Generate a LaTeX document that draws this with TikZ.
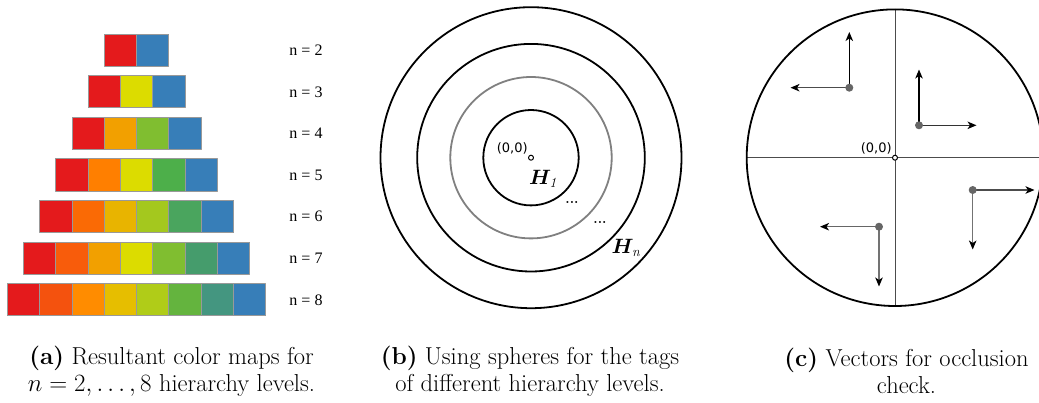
\documentclass[tikz,border=0pt]{standalone}
\usepackage{fontspec}
\usepackage{amsmath,bm}
\usetikzlibrary{arrows.meta}
\newfontfamily\labelfont{Liberation Serif}
\newfontfamily\coordfont{DejaVu Sans}

\definecolor{cRed}{RGB}{228,26,28}
\definecolor{cBlue}{RGB}{55,126,184}
\definecolor{cYel}{RGB}{220,220,0}
\definecolor{cOrA}{RGB}{242,160,0}
\definecolor{cGrA}{RGB}{128,190,48}
\definecolor{cOrB}{RGB}{255,127,0}
\definecolor{cGrB}{RGB}{77,175,74}
\definecolor{cOrC}{RGB}{250,106,5}
\definecolor{cYeC}{RGB}{232,180,0}
\definecolor{cLiC}{RGB}{164,200,30}
\definecolor{cGrC}{RGB}{74,165,94}
\definecolor{cOrD}{RGB}{248,92,11}
\definecolor{cGrD}{RGB}{69,156,108}
\definecolor{cOrE}{RGB}{244,82,14}
\definecolor{cOrF}{RGB}{255,140,0}
\definecolor{cYeE}{RGB}{230,190,0}
\definecolor{cLiE}{RGB}{176,204,24}
\definecolor{cGrE}{RGB}{100,180,62}
\definecolor{cTeE}{RGB}{68,150,128}

\begin{document}
\begin{tikzpicture}[
    x=1pt,
    y=-1pt,
    line cap=round,
    line join=round,
    cell/.style={
        draw=black!40,
        line width=1pt,
        minimum size=32.3pt,
        inner sep=0pt
    },
    nlabel/.style={font=\labelfont\fontsize{16}{18}\selectfont},
    coordlabel/.style={font=\coordfont\fontsize{13}{15}\selectfont},
    ring/.style={line width=1.8pt},
    axis/.style={line width=0.9pt, black!70},
    vec/.style={
        line width=1.2pt,
        -{Stealth[length=9pt,width=7.5pt,inset=2.5pt,color=black]}
    },
    spot/.style={circle, fill=black!60, inner sep=0pt, minimum size=8pt},
    origin/.style={circle, draw, fill=white, line width=1pt,
        inner sep=0pt, minimum size=5pt},
    caption/.style={
        align=center,
        font=\fontsize{24.5}{27}\selectfont
    }
]

\useasboundingbox (0,0) rectangle (1039,402);
\clip (0,0) rectangle (1039,402);

% =========================================================
% (a) Color maps
% =========================================================

\def\cx{136.6}    % centre of the rows
\def\sq{32.3}     % cell size
\def\gap{41.6}    % row distance

\foreach \n/\cols in {
    2/{cRed,cBlue},
    3/{cRed,cYel,cBlue},
    4/{cRed,cOrA,cGrA,cBlue},
    5/{cRed,cOrB,cYel,cGrB,cBlue},
    6/{cRed,cOrC,cYeC,cLiC,cGrC,cBlue},
    7/{cRed,cOrD,cOrA,cYel,cGrA,cGrD,cBlue},
    8/{cRed,cOrE,cOrF,cYeE,cLiE,cGrE,cTeE,cBlue}}
{
    \foreach \c [count=\i] in \cols
        \node[cell, fill=\c] (cell-\n-\i)
            at ({\cx+(\i-(\n+1)/2)*\sq}, {50.2+(\n-2)*\gap}) {};
    \node[nlabel] (n\n) at (306, {50.2+(\n-2)*\gap}) {n = \n};
}

% =========================================================
% (b) Spheres
% =========================================================

\coordinate (Ob) at (531,157.7);

\draw[ring] (Ob) circle [radius=150.5];
\draw[ring] (Ob) circle [radius=113.8];
\draw[ring, black!50] (Ob) circle [radius=80.7];
\draw[ring] (Ob) circle [radius=47.7];

\node[origin, minimum size=5pt] (ob) at (Ob) {};
\node[coordlabel, anchor=south east, inner sep=1pt] (ob-lab)
    at (ob.north west) {(0,0)};

\node (h1) at (543,179)
    {\fontsize{20}{24}\selectfont$\bm{H}_{\mathit{1}}$};
\node (dots1) at (572,202) {\fontsize{14}{16}\selectfont\textbf{...}};
\node (dots2) at (600,222) {\fontsize{14}{16}\selectfont\textbf{...}};
\node (hn) at (626,248)
    {\fontsize{20}{24}\selectfont$\bm{H}_{\mathit{n}}$};

% =========================================================
% (c) Occlusion vectors
% =========================================================

\coordinate (Oc) at (895,157.7);
\def\rc{148.3}

\draw[axis] (895-\rc,157.7) -- (895+\rc,157.7);
\draw[axis] (895,157.7-\rc) -- (895,157.7+\rc);
\draw[ring] (Oc) circle [radius=\rc];

% base points and tips
\coordinate (p1) at (849.3,87.7);
\coordinate (p1u) at (849.3,32);
\coordinate (p1l) at (790.5,87.7);

\coordinate (p2) at (919,125.3);
\coordinate (p2u) at (919,69.5);
\coordinate (p2r) at (976.5,125.3);

\coordinate (p3) at (972.7,190);
\coordinate (p3r) at (1034.5,190);
\coordinate (p3d) at (972.7,249.5);

\coordinate (p4) at (879,226.7);
\coordinate (p4l) at (820,226.7);
\coordinate (p4d) at (879,286.5);

\draw[vec, black] (p1) -- (p1u);
\draw[vec, black!70] (p1) -- (p1l);
\draw[vec, black] (p2) -- (p2u);
\draw[vec, black!80] (p2) -- (p2r);
\draw[vec, black!70] (p3) -- (p3r);
\draw[vec, black!55] (p3) -- (p3d);
\draw[vec, black!60] (p4) -- (p4l);
\draw[vec, black!55] (p4) -- (p4d);

\foreach \p in {p1,p2,p3,p4}
    \node[spot] (\p-dot) at (\p) {};

\node[origin] (oc) at (Oc) {};
\node[coordlabel, anchor=south east, inner sep=1pt] (oc-lab)
    at (oc.north west) {(0,0)};

% =========================================================
% Captions
% =========================================================

\node[caption] (cap-a) at (171.5,371)
    {\textbf{(a)} Resultant color maps for\\
     $n=2,\ldots,8$ hierarchy levels.};
\node[caption] (cap-b) at (530,371)
    {\textbf{(b)} Using spheres for the tags\\
     of different hierarchy levels.};
\node[caption] (cap-c) at (906.5,371)
    {\textbf{(c)} Vectors for occlusion\\
     check.};

\end{tikzpicture}
\end{document}
